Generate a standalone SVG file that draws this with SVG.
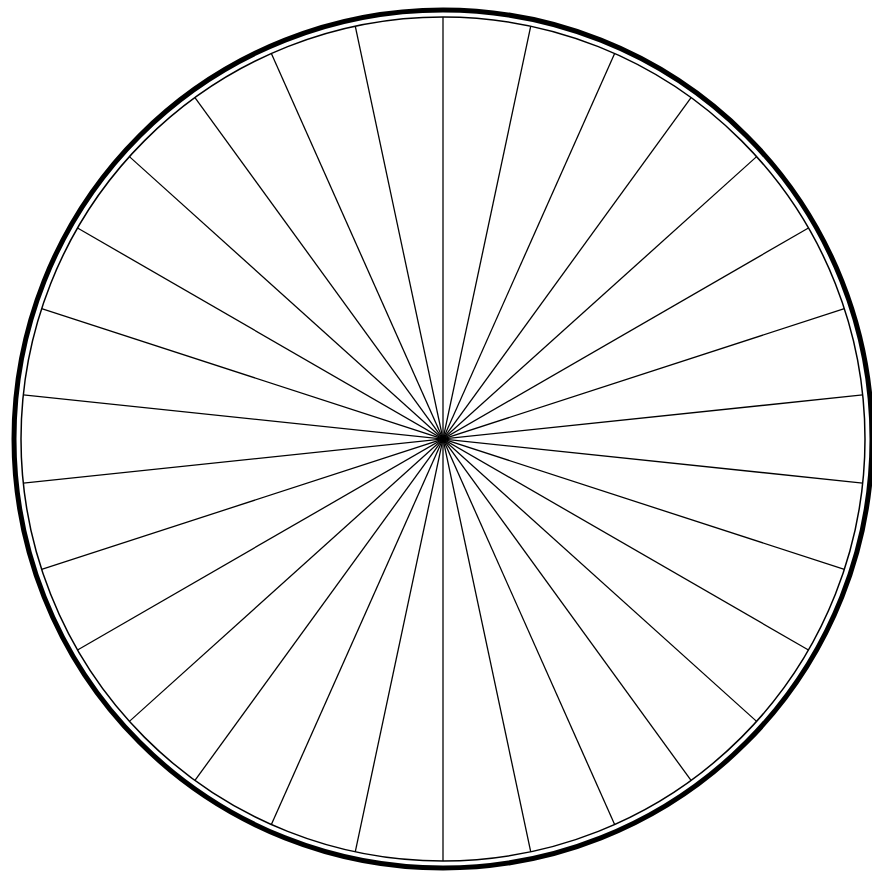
<svg xmlns="http://www.w3.org/2000/svg" width="872" height="871" viewBox="0 0 872 871">
<style>
.rim{fill:none;stroke:#000;stroke-width:5}
.inner{fill:none;stroke:#000;stroke-width:1.5}
.spoke{stroke:#000;stroke-width:1.3;stroke-linecap:butt}
</style>
<rect width="872" height="871" fill="#fff"/>
<g id="wheel">
<circle class="rim" cx="443" cy="439" r="429"/>
<circle class="inner" cx="443" cy="439" r="422"/>
</g>
<g id="spokes">
<line class="spoke" x1="443" y1="17" x2="443" y2="861"/>
<line class="spoke" x1="530.74" y1="26.22" x2="355.26" y2="851.78"/>
<line class="spoke" x1="614.64" y1="53.48" x2="271.36" y2="824.52"/>
<line class="spoke" x1="691.05" y1="97.59" x2="194.95" y2="780.41"/>
<line class="spoke" x1="756.61" y1="156.63" x2="129.39" y2="721.37"/>
<line class="spoke" x1="808.46" y1="228" x2="77.54" y2="650"/>
<line class="spoke" x1="844.35" y1="308.59" x2="41.65" y2="569.41"/>
<line class="spoke" x1="862.69" y1="394.89" x2="23.31" y2="483.11"/>
<line class="spoke" x1="862.69" y1="483.11" x2="23.31" y2="394.89"/>
<line class="spoke" x1="844.35" y1="569.41" x2="41.65" y2="308.59"/>
<line class="spoke" x1="808.46" y1="650" x2="77.54" y2="228"/>
<line class="spoke" x1="756.61" y1="721.37" x2="129.39" y2="156.63"/>
<line class="spoke" x1="691.05" y1="780.41" x2="194.95" y2="97.59"/>
<line class="spoke" x1="614.64" y1="824.52" x2="271.36" y2="53.48"/>
<line class="spoke" x1="530.74" y1="851.78" x2="355.26" y2="26.22"/>
</g>
</svg>
